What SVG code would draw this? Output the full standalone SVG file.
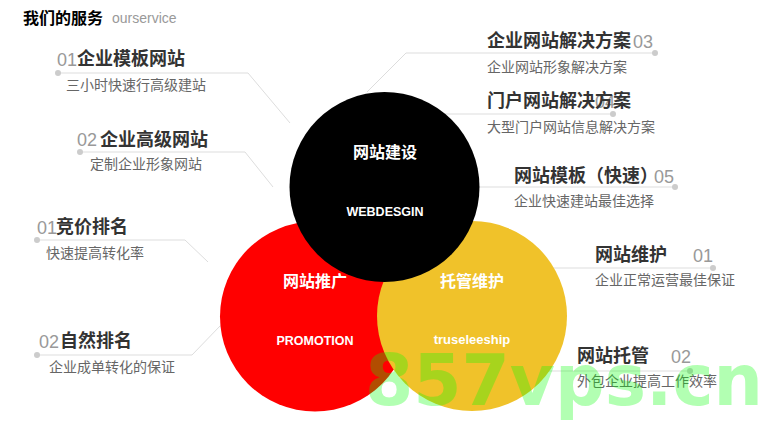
<svg xmlns="http://www.w3.org/2000/svg" width="778" height="426" viewBox="0 0 778 426">
<style>
.hd{font-family:"Noto Sans CJK SC","Liberation Sans",sans-serif;font-size:18px;font-weight:bold;fill:#333}
.sub{font-family:"Noto Sans CJK SC","Liberation Sans",sans-serif;font-size:14px;fill:#666}
.num{font-family:"Liberation Sans","Noto Sans",sans-serif;font-size:18px;fill:#999}
.cz{font-family:"Noto Sans CJK SC","Liberation Sans",sans-serif;font-size:16px;font-weight:bold;fill:#fff;text-anchor:middle}
.ce{font-family:"Liberation Sans","Noto Sans",sans-serif;font-size:12.5px;font-weight:bold;fill:#fff;text-anchor:middle}
.ln{fill:none;stroke:#ddd;stroke-width:1}
.dot{fill:#ccc}
</style>
<rect width="778" height="426" fill="#fff"/>
<g id="title">
<text x="23" y="24" style="font-family:'Noto Sans CJK SC','Liberation Sans',sans-serif;font-size:16px;font-weight:bold;fill:#000">我们的服务</text>
<text x="112" y="23" style="font-family:'Liberation Sans',sans-serif;font-size:14px;fill:#999">ourservice</text>
</g>
<g id="connectors">
<polyline class="ln" points="58,73 248,73 290,123"/>
<polyline class="ln" points="80,152 245,152 273,187"/>
<polyline class="ln" points="37,240 185,240 208,262"/>
<polyline class="ln" points="37,355 192,355 220,326"/>
<polyline class="ln" points="367,92 406,53 655,53"/>
<polyline class="ln" points="445,114 613,114"/>
<polyline class="ln" points="479,187 675,187"/>
<polyline class="ln" points="553,268 713,268"/>
<polyline class="ln" points="548,371 690,371"/>
<circle class="dot" cx="58" cy="73" r="3"/>
<circle class="dot" cx="80" cy="152" r="3"/>
<circle class="dot" cx="37" cy="240" r="3"/>
<circle class="dot" cx="37" cy="355" r="3"/>
<circle class="dot" cx="655" cy="53" r="3"/>
<circle class="dot" cx="613" cy="114" r="3"/>
<circle class="dot" cx="675" cy="187" r="3"/>
<circle class="dot" cx="713" cy="268" r="3"/>
<circle class="dot" cx="690" cy="371" r="3"/>
</g>
<g id="promotion">
<circle cx="315" cy="316.5" r="95" fill="#ff0000"/>
</g>
<g id="trusteeship">
<circle cx="472" cy="316" r="95" fill="#f0c22a"/>
</g>
<g id="webdesign">
<circle cx="384.5" cy="187" r="95" fill="#000"/>
<text class="cz" x="385" y="158">网站建设</text>
<text class="ce" x="385" y="216">WEBDESGIN</text>
</g>
<g id="promotion-label">
<text class="cz" x="315" y="287">网站推广</text>
<text class="ce" x="315" y="345">PROMOTION</text>
</g>
<g id="trusteeship-label">
<text class="cz" x="472" y="287">托管维护</text>
<text class="ce" x="472" y="344" style="font-size:13px">truseleeship</text>
</g>
<g id="item-l1">
<text class="num" x="57" y="66">01</text>
<text class="hd" x="77" y="65">企业模板网站</text>
<text class="sub" x="66" y="90">三小时快速行高级建站</text>
</g>
<g id="item-l2">
<text class="num" x="77" y="146">02</text>
<text class="hd" x="100" y="146">企业高级网站</text>
<text class="sub" x="90" y="169">定制企业形象网站</text>
</g>
<g id="item-l3">
<text class="num" x="37" y="234">01</text>
<text class="hd" x="56" y="233">竞价排名</text>
<text class="sub" x="46" y="258">快速提高转化率</text>
</g>
<g id="item-l4">
<text class="num" x="39" y="348">02</text>
<text class="hd" x="60" y="347">自然排名</text>
<text class="sub" x="49" y="372">企业成单转化的保证</text>
</g>
<g id="item-r1">
<text class="hd" x="487" y="47">企业网站解决方案</text>
<text class="num" x="633" y="48">03</text>
<text class="sub" x="487" y="72">企业网站形象解决方案</text>
</g>
<g id="item-r2">
<text class="num" x="595" y="108">04</text>
<text class="hd" x="487" y="107">门户网站解决方案</text>
<text class="sub" x="487" y="132">大型门户网站信息解决方案</text>
</g>
<g id="item-r3">
<text class="hd" x="514" y="182">网站模板（快速）</text>
<text class="num" x="654" y="183">05</text>
<text class="sub" x="514" y="206">企业快速建站最佳选择</text>
</g>
<g id="item-r4">
<text class="hd" x="595" y="261">网站维护</text>
<text class="num" x="693" y="262">01</text>
<text class="sub" x="595" y="285">企业正常运营最佳保证</text>
</g>
<g id="item-r5">
<text class="hd" x="577" y="362">网站托管</text>
<text class="num" x="671" y="363">02</text>
<text class="sub" x="577" y="386">外包企业提高工作效率</text>
</g>
<g id="watermark">
<text x="365" y="405" textLength="398" lengthAdjust="spacingAndGlyphs" style="font-family:'DejaVu Sans',sans-serif;font-size:72px;font-weight:bold;fill:#00ff00;fill-opacity:0.3">857vps.cn</text>
</g>
</svg>
